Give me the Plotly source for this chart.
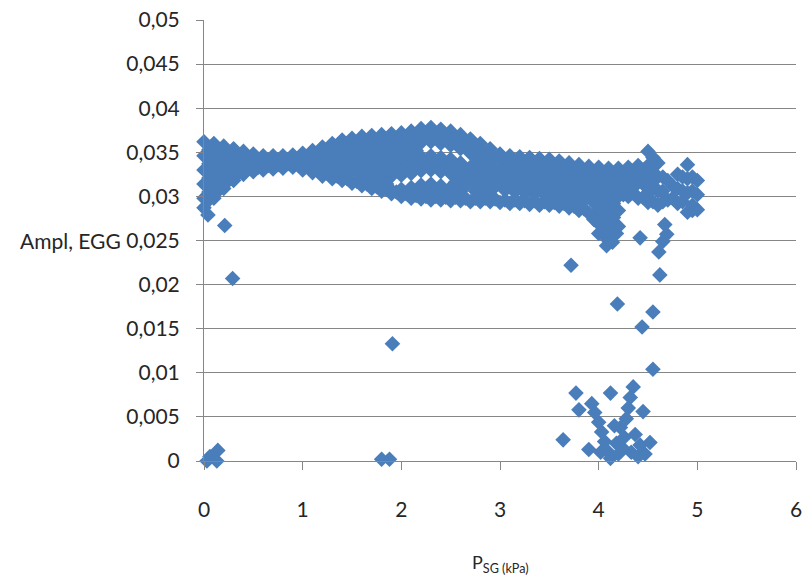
import plotly.graph_objects as go

# Subglottal pressure grids (kPa) on which the dense EGG amplitude sweeps were sampled
PSG_GRID_A = [0.0, 0.1, 0.2, 0.3, 0.4, 0.5, 0.6, 0.7, 0.8, 0.9,
              1.0, 1.1, 1.2, 1.3, 1.4, 1.5, 1.6, 1.7, 1.8, 1.9,
              2.0, 2.1, 2.2, 2.3, 2.4, 2.5, 2.6, 2.7, 2.8, 2.9,
              3.0, 3.1, 3.2, 3.3, 3.4, 3.5, 3.6, 3.7, 3.8, 3.9,
              4.0, 4.1, 4.2, 4.3, 4.4, 4.5, 4.6, 4.7, 4.8, 4.9,
              5.0]
PSG_GRID_B = [0.05, 0.15, 0.25, 0.35, 0.45, 0.55, 0.65, 0.75, 0.85, 0.95,
              1.05, 1.15, 1.25, 1.35, 1.45, 1.55, 1.65, 1.75, 1.85, 1.95,
              2.05, 2.15, 2.25, 2.35, 2.45, 2.55, 2.65, 2.75, 2.85, 2.95,
              3.05, 3.15, 3.25, 3.35, 3.45, 3.55, 3.65, 3.75, 3.85, 3.95,
              4.05, 4.15, 4.25, 4.35, 4.45, 4.55, 4.65, 4.75, 4.85, 4.95]

N = None

# EGG amplitude sweeps on grid A
sweep_a1 = [0.0362, 0.0360, 0.0357, 0.0354, 0.0351, 0.0348, 0.0346, 0.0346, 0.0346, 0.0347,
            0.0349, 0.0352, 0.0356, 0.0360, 0.0364, 0.0366, 0.0368, 0.0369, 0.0370, 0.0371,
            0.0372, 0.0374, 0.0377, 0.0378, 0.0376, 0.0374, 0.0370, 0.0365, 0.0360, 0.0354,
            0.0348, 0.0346, 0.0345, 0.0344, 0.0343, 0.0342, 0.0340, 0.0338, 0.0336, 0.0334,
            0.0333, 0.0332, 0.0332, 0.0333, 0.0335, 0.0351, 0.0338, 0.0318, 0.0325, 0.0336,
            0.0318]
sweep_a2 = [0.0346, 0.0344, 0.0341, 0.0338, 0.0335, 0.0332, N, N, N, N,
            N, 0.0336, 0.0340, 0.0344, 0.0348, 0.0350, 0.0352, 0.0353, 0.0354, 0.0355,
            0.0356, 0.0358, 0.0361, 0.0362, 0.0360, 0.0358, 0.0354, 0.0349, 0.0344, 0.0338,
            0.0332, 0.0330, 0.0329, 0.0328, 0.0327, 0.0326, 0.0324, 0.0322, 0.0320, 0.0318,
            0.0317, 0.0316, 0.0316, 0.0317, 0.0319, 0.0335, 0.0322, N, 0.0309, 0.0320,
            0.0302]
sweep_a3 = [0.0330, 0.0328, 0.0325, 0.0322, N, N, N, N, N, N,
            N, N, N, 0.0328, 0.0332, 0.0334, 0.0336, 0.0337, 0.0338, 0.0339,
            0.0340, 0.0342, 0.0345, 0.0346, 0.0344, 0.0342, 0.0338, 0.0333, 0.0328, 0.0322,
            0.0316, 0.0314, 0.0313, 0.0312, 0.0311, 0.0310, 0.0308, 0.0306, 0.0304, 0.0302,
            0.0301, 0.0300, 0.0300, N, N, 0.0319, 0.0306, N, N, 0.0304,
            N]
sweep_a4 = [0.0314, 0.0312, N, N, N, N, N, N, N, N,
            N, N, N, N, N, N, 0.0320, 0.0321, 0.0322, 0.0323,
            0.0324, 0.0326, 0.0329, 0.0330, 0.0328, 0.0326, 0.0322, 0.0317, 0.0312, 0.0306,
            N, N, N, N, N, N, N, N, N, N,
            0.0285, 0.0284, 0.0284, N, N, 0.0303, N, N, N, N,
            N]
sweep_a5 = [0.0298, N, N, N, N, N, N, N, N, N,
            N, N, N, N, N, N, N, N, N, 0.0307,
            0.0308, 0.0310, 0.0313, 0.0314, 0.0312, 0.0310, 0.0306, N, N, N,
            N, N, N, N, N, N, N, N, N, N,
            0.0269, 0.0268, N, N, N, N, N, N, N, N,
            N]
sweep_a6 = [0.0287, 0.0298, 0.0309, 0.0318, 0.0325, 0.0328, 0.0330, 0.0331, 0.0332, 0.0333,
            0.0330, 0.0327, 0.0323, 0.0320, 0.0318, 0.0315, 0.0312, 0.0309, 0.0306, 0.0303,
            0.0300, 0.0298, 0.0297, 0.0296, 0.0296, 0.0295, 0.0295, 0.0294, 0.0294, 0.0294,
            0.0293, 0.0292, 0.0292, 0.0291, 0.0290, 0.0290, 0.0289, 0.0287, 0.0284, 0.0281,
            0.0258, 0.0250, 0.0266, 0.0300, 0.0298, 0.0293, 0.0290, 0.0296, 0.0292, 0.0282,
            0.0285]

# EGG amplitude sweeps on grid B
sweep_b1 = [0.0353, 0.0351, 0.0348, 0.0345, 0.0341, 0.0339, 0.0338, 0.0338, 0.0339, 0.0340,
            0.0342, 0.0346, 0.0350, 0.0354, 0.0357, 0.0359, 0.0360, 0.0361, 0.0362, 0.0363,
            0.0365, 0.0368, 0.0370, 0.0369, 0.0367, 0.0364, 0.0360, 0.0354, 0.0349, 0.0343,
            0.0339, 0.0337, 0.0336, 0.0335, 0.0334, 0.0333, 0.0331, 0.0329, 0.0327, 0.0325,
            0.0324, 0.0324, 0.0324, 0.0326, 0.0330, 0.0344, 0.0322, 0.0312, 0.0322, 0.0322]
sweep_b2 = [0.0337, 0.0335, 0.0332, 0.0329, N, N, N, N, N, N,
            N, 0.0330, 0.0334, 0.0338, 0.0341, 0.0343, 0.0344, 0.0345, 0.0346, 0.0347,
            0.0349, 0.0352, N, N, N, N, N, 0.0338, 0.0333, 0.0327,
            0.0323, 0.0321, 0.0320, 0.0319, 0.0318, 0.0317, 0.0315, 0.0313, 0.0311, 0.0309,
            0.0308, 0.0308, 0.0308, 0.0310, 0.0314, 0.0328, 0.0306, N, 0.0306, 0.0306]
sweep_b3 = [0.0321, 0.0319, N, N, N, N, N, N, N, N,
            N, N, N, N, 0.0325, 0.0327, 0.0328, 0.0329, 0.0330, 0.0331,
            0.0333, 0.0336, 0.0338, 0.0337, 0.0335, 0.0332, 0.0328, 0.0322, 0.0317, 0.0311,
            0.0307, 0.0305, 0.0304, 0.0303, 0.0302, 0.0301, 0.0299, 0.0297, 0.0295, 0.0293,
            0.0292, 0.0292, N, N, N, 0.0312, N, N, N, 0.0290]
sweep_b4 = [0.0305, N, N, N, N, N, N, N, N, N,
            N, N, N, N, N, N, N, 0.0313, 0.0314, N,
            N, N, N, N, N, 0.0316, 0.0312, 0.0306, 0.0301, N,
            N, N, N, N, N, N, N, N, N, 0.0277,
            0.0276, 0.0276, N, N, N, N, N, N, N, N]
sweep_b5 = [N, N, N, N, N, N, N, N, N, N,
            N, N, N, N, N, N, N, N, N, N,
            N, 0.0304, 0.0306, 0.0305, 0.0303, 0.0300, N, N, N, N,
            N, N, N, N, N, N, N, N, N, N,
            0.0260, 0.0260, N, N, N, N, N, N, N, N]
sweep_b6 = [0.0296, 0.0307, 0.0318, 0.0326, 0.0331, 0.0333, 0.0335, 0.0336, 0.0337, 0.0336,
            0.0333, 0.0329, 0.0326, 0.0323, 0.0320, 0.0317, 0.0314, 0.0311, 0.0308, 0.0305,
            0.0303, 0.0301, 0.0300, 0.0300, 0.0299, 0.0299, 0.0298, 0.0298, 0.0298, 0.0297,
            0.0296, 0.0296, 0.0295, 0.0295, 0.0294, 0.0293, 0.0292, 0.0289, 0.0286, 0.0274,
            0.0256, 0.0260, 0.0302, 0.0304, 0.0299, 0.0294, 0.0294, 0.0298, 0.0294, 0.0284]

# Scattered readings away from the main band
psg_scatter = [0.03, 0.06, 0.13, 0.14, 0.04, 0.21, 0.29,
               1.80, 1.88, 1.91,
               3.72, 3.64, 3.77, 3.80, 3.93, 3.90, 3.96, 4.00, 4.03, 4.06,
               4.09, 4.12, 4.02, 4.12, 4.16, 4.18, 4.20, 4.22, 4.24, 4.26,
               4.28, 4.30, 4.32, 4.35, 4.33, 4.37, 4.40, 4.42, 4.45, 4.47,
               4.52, 4.55, 4.19, 4.55, 4.44, 4.42, 4.67, 4.65, 4.61, 4.62,
               4.69, 4.08, 4.14, 4.18]
ampl_scatter = [0.0000, 0.0005, 0.0000, 0.0012, 0.0279, 0.0267, 0.0207,
                0.0002, 0.0002, 0.0133,
                0.0222, 0.0024, 0.0077, 0.0058, 0.0065, 0.0013, 0.0055, 0.0044, 0.0033, 0.0022,
                0.0011, 0.0003, 0.0010, 0.0077, 0.0040, 0.0020, 0.0008, 0.0038, 0.0015, 0.0027,
                0.0048, 0.0060, 0.0072, 0.0084, 0.0010, 0.0030, 0.0005, 0.0018, 0.0056, 0.0008,
                0.0021, 0.0104, 0.0178, 0.0169, 0.0152, 0.0253, 0.0268, 0.0249, 0.0237, 0.0211,
                0.0257, 0.0244, 0.0248, 0.0258]

# Axis ticks
x_ticks = [0, 1, 2, 3, 4, 5, 6]
x_tick_labels = ["0", "1", "2", "3", "4", "5", "6"]
y_ticks = [0, 0.005, 0.01, 0.015, 0.02, 0.025, 0.03, 0.035, 0.04, 0.045, 0.05]
y_tick_labels = ["0", "0,005", "0,01", "0,015", "0,02", "0,025", "0,03",
                 "0,035", "0,04", "0,045", "0,05"]

MARKER_BLUE = "#4a7ebb"
GRID_GREY = "#868686"
TEXT = "#262626"
FONT = "Lato"

marker = dict(symbol="diamond", size=12, color=MARKER_BLUE, line=dict(width=0))

fig = go.Figure()
for grid, sweep in [(PSG_GRID_A, sweep_a1), (PSG_GRID_A, sweep_a2), (PSG_GRID_A, sweep_a3),
                    (PSG_GRID_A, sweep_a4), (PSG_GRID_A, sweep_a5), (PSG_GRID_A, sweep_a6),
                    (PSG_GRID_B, sweep_b1), (PSG_GRID_B, sweep_b2), (PSG_GRID_B, sweep_b3),
                    (PSG_GRID_B, sweep_b4), (PSG_GRID_B, sweep_b5), (PSG_GRID_B, sweep_b6)]:
    fig.add_trace(go.Scatter(x=grid, y=sweep, mode="markers", marker=marker,
                             cliponaxis=False, showlegend=False, hoverinfo="x+y"))
fig.add_trace(go.Scatter(x=psg_scatter, y=ampl_scatter, mode="markers", marker=marker,
                         cliponaxis=False, showlegend=False, hoverinfo="x+y"))

fig.update_layout(
    width=808, height=582,
    margin=dict(l=204, r=6, t=20, b=121),
    paper_bgcolor="white", plot_bgcolor="white",
    font=dict(family=FONT, size=21, color=TEXT),
    xaxis=dict(range=[0, 6], tickmode="array", tickvals=x_ticks, ticktext=x_tick_labels,
               showgrid=False, zeroline=False, showline=True, linecolor=GRID_GREY,
               linewidth=1, ticks="outside", ticklen=8, tickcolor=GRID_GREY,
               ticklabelstandoff=22, ticklabeloverflow="allow",
               tickfont=dict(family=FONT, size=21, color=TEXT)),
    yaxis=dict(range=[0, 0.05], tickmode="array", tickvals=y_ticks, ticktext=y_tick_labels,
               showgrid=True, gridcolor=GRID_GREY, gridwidth=1, zeroline=False,
               showline=True, linecolor=GRID_GREY, linewidth=1, ticks="outside",
               ticklen=7, tickcolor=GRID_GREY, ticklabelstandoff=12,
               tickfont=dict(family=FONT, size=21, color=TEXT)),
    annotations=[
        dict(text="Ampl, EGG", xref="paper", yref="y", x=-0.315, y=0.025,
             xanchor="left", yanchor="middle", showarrow=False,
             font=dict(family=FONT, size=21, color=TEXT)),
        dict(text="P<sub>SG (kPa)</sub>", xref="paper", yref="paper", x=0.5, y=-0.2,
             xanchor="center", yanchor="top", showarrow=False,
             font=dict(family=FONT, size=18, color=TEXT)),
    ],
)

fig.write_html("out.html")
